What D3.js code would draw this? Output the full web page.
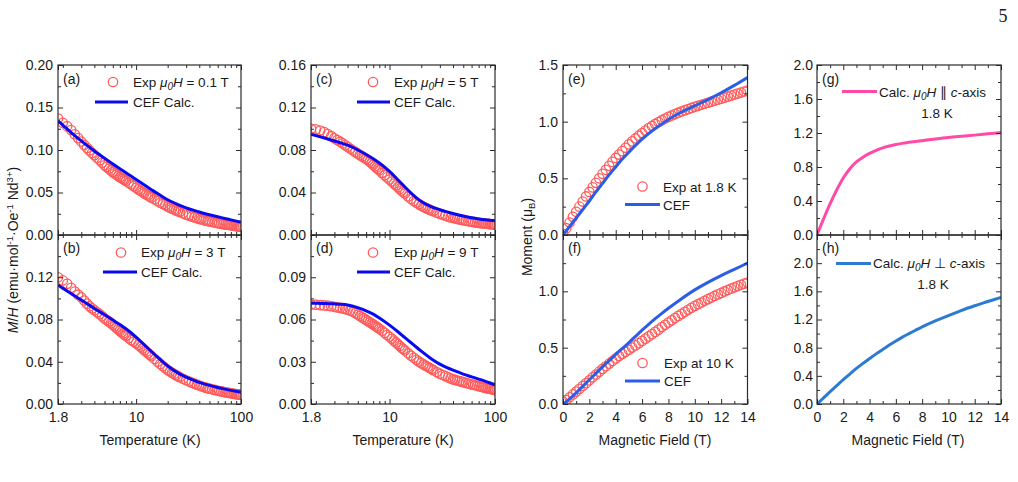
<!DOCTYPE html>
<html><head><meta charset="utf-8">
<script src="https://cdn.jsdelivr.net/npm/d3@7"></script>
<style>
body{margin:0;background:#fff;}
svg text{font-family:"Liberation Sans",Arial,sans-serif;fill:#1a1a1a;}
</style></head><body>
<svg id="c" width="1018" height="482"></svg>
<script>
// ---------- DATA ----------
const tempExp = [1.8,2.0,2.2,2.4,2.6,2.8,3.0,3.2,3.4,3.6,
  3.8,4.0,4.25,4.5,4.75,5.0,5.25,5.5,5.75,6.0,
  6.25,6.5,6.75,7.0,7.25,7.5,7.75,8.0,8.5,9.0,
  9.5,10,10.5,11,11.5,12,12.5,13,13.5,14,
  15,16,17,18,19,20,21,22,23,24,
  25,26,28,30,32,34,36,38,40,42,
  44,46,48,50,53,56,59,62,65,68,
  71,74,77,80,83,86,89,92,95,98,
  100];
const mhExp01T = [0.137,0.132,0.128,0.1235,0.1185,0.114,0.110,0.106,0.1025,0.0995,
  0.0965,0.094,0.091,0.088,0.085,0.082,0.080,0.078,0.076,0.074,
  0.0725,0.071,0.0695,0.068,0.067,0.066,0.0647,0.0635,0.0615,0.0595,
  0.0575,0.0555,0.0537,0.052,0.0505,0.049,0.0477,0.0465,0.0452,0.044,
  0.042,0.040,0.038,0.0365,0.035,0.0335,0.0322,0.031,0.030,0.029,
  0.028,0.027,0.0255,0.024,0.0228,0.0217,0.0207,0.0198,0.019,0.0183,
  0.0176,0.017,0.0165,0.016,0.0153,0.0147,0.0142,0.0137,0.0132,0.0128,
  0.0125,0.0121,0.0118,0.0114,0.0111,0.0108,0.0105,0.0102,0.0099,0.0097,
  0.0095];
const mhExp3T = [0.120,0.117,0.1138,0.110,0.1065,0.1035,0.101,0.098,0.095,0.0925,
  0.0905,0.0888,0.0868,0.085,0.083,0.081,0.0795,0.078,0.0765,0.075,
  0.0735,0.072,0.0705,0.0692,0.068,0.0668,0.0656,0.0645,0.0624,0.0605,
  0.0589,0.0575,0.0558,0.0542,0.0526,0.051,0.0495,0.048,0.0466,0.0452,
  0.0426,0.0401,0.0379,0.0358,0.0339,0.0322,0.0308,0.0295,0.0284,0.0273,
  0.0263,0.0254,0.0239,0.0225,0.0213,0.0202,0.0192,0.0183,0.0175,0.0168,
  0.0161,0.0155,0.015,0.0145,0.0139,0.0133,0.0128,0.0123,0.0119,0.0115,
  0.0111,0.0108,0.0105,0.0102,0.0099,0.0096,0.0094,0.0092,0.009,0.0088,
  0.0087];
const mhExp5T = [0.100,0.0995,0.0983,0.0968,0.095,0.093,0.091,0.0894,0.0878,0.0862,
  0.0846,0.083,0.0812,0.0795,0.078,0.0765,0.0752,0.074,0.0727,0.0715,
  0.0703,0.069,0.0676,0.0661,0.0647,0.0634,0.0621,0.0609,0.0585,0.0563,
  0.0542,0.0522,0.0503,0.0484,0.0467,0.045,0.0434,0.0419,0.0404,0.039,
  0.0363,0.034,0.032,0.0303,0.0289,0.0276,0.0265,0.0255,0.0246,0.0238,
  0.023,0.0223,0.021,0.0199,0.019,0.0181,0.0173,0.0166,0.016,0.0156,
  0.0152,0.0147,0.0143,0.0139,0.0135,0.013,0.0126,0.0123,0.0119,0.0117,
  0.0114,0.0112,0.011,0.0108,0.0106,0.0104,0.0103,0.0101,0.010,0.0099,
  0.0098];
const mhExp9T = [0.0705,0.0705,0.0702,0.070,0.0698,0.0694,0.069,0.0686,0.0682,0.0678,
  0.0674,0.067,0.0663,0.0655,0.0645,0.0635,0.0625,0.0615,0.0606,0.0597,
  0.0588,0.058,0.0572,0.0565,0.0557,0.055,0.0542,0.0534,0.052,0.0505,
  0.049,0.0477,0.0463,0.045,0.0437,0.0425,0.0412,0.040,0.039,0.038,
  0.036,0.0343,0.0328,0.0314,0.0301,0.029,0.0281,0.0272,0.0264,0.0256,
  0.0248,0.024,0.0227,0.0215,0.0206,0.0198,0.0189,0.0182,0.0175,0.0171,
  0.0167,0.0163,0.0159,0.0155,0.015,0.0145,0.014,0.0137,0.0133,0.0129,
  0.0126,0.0122,0.0119,0.0116,0.0113,0.011,0.0108,0.0106,0.0103,0.0101,
  0.010];

const tempCalc = [1.8,2,2.5,3,3.5,4,5,6,7,8,9,10,12,14,16,18,20,25,30,35,40,50,60,70,80,90,100];
const mhCalc01T = [0.1345,0.1293,0.1188,0.1107,0.1042,0.0988,0.0903,0.0836,0.078,0.0732,0.069,0.0652,0.0587,0.0533,0.0487,0.0448,0.0414,0.0358,0.032,0.0292,0.027,0.0238,0.0214,0.0195,0.0178,0.0163,0.015];
const mhCalc3T = [0.1127,0.1097,0.1035,0.0985,0.0942,0.0905,0.0845,0.0795,0.0752,0.0712,0.0672,0.0633,0.056,0.0497,0.0443,0.0398,0.036,0.0295,0.0254,0.0226,0.0205,0.0176,0.0156,0.0141,0.0129,0.012,0.0112];
const mhCalc5T = [0.0947,0.0935,0.0908,0.0885,0.0865,0.0845,0.080,0.0758,0.0717,0.0677,0.0638,0.0598,0.052,0.0452,0.0395,0.035,0.0315,0.0265,0.0238,0.0218,0.0202,0.0178,0.0162,0.0151,0.0143,0.0138,0.0135];
const mhCalc9T = [0.0715,0.0715,0.0713,0.0711,0.0708,0.0703,0.0684,0.0662,0.0638,0.0611,0.0585,0.056,0.0513,0.0471,0.0435,0.0403,0.0375,0.032,0.0283,0.0258,0.024,0.0212,0.0193,0.0177,0.0163,0.0149,0.0135];

const fieldExp = [0,0.25,0.5,0.75,1,1.25,1.5,1.75,2,2.25,2.5,2.75,3,3.25,3.5,3.75,4,4.25,4.5,4.75,5,5.25,5.5,5.75,6,6.25,6.5,6.75,7,7.25,7.5,7.75,8,8.25,8.5,8.75,9,9.25,9.5,9.75,10,10.25,10.5,10.75,11,11.25,11.5,11.75,12,12.25,12.5,12.75,13,13.25,13.5,13.75,14];
const momExp18K = [0.01,0.06,0.11,0.16,0.205,0.25,0.295,0.34,0.38,0.42,0.46,0.50,0.54,0.575,0.61,0.645,0.68,0.71,0.74,0.77,0.80,0.826,0.852,0.876,0.90,0.922,0.943,0.962,0.98,0.997,1.013,1.028,1.042,1.055,1.067,1.079,1.09,1.101,1.111,1.121,1.131,1.14,1.149,1.158,1.167,1.176,1.185,1.194,1.203,1.212,1.221,1.23,1.239,1.248,1.257,1.266,1.275];
const momExp10K = [0.02,0.035,0.06,0.085,0.11,0.135,0.16,0.185,0.21,0.237,0.262,0.287,0.312,0.335,0.358,0.381,0.404,0.426,0.445,0.463,0.482,0.501,0.52,0.54,0.56,0.58,0.60,0.62,0.64,0.66,0.683,0.703,0.723,0.743,0.763,0.782,0.80,0.818,0.836,0.854,0.871,0.886,0.901,0.916,0.931,0.945,0.959,0.973,0.986,0.999,1.012,1.024,1.036,1.047,1.058,1.068,1.078];

const fieldCalc = [0,0.5,1,1.5,2,2.5,3,3.5,4,4.5,5,5.5,6,6.5,7,7.5,8,9,10,11,12,13,14];
const momCalc18K = [0,0.075,0.15,0.225,0.30,0.38,0.455,0.53,0.60,0.67,0.73,0.79,0.845,0.895,0.94,0.98,1.02,1.085,1.14,1.195,1.255,1.32,1.39];
const momCalc10K = [0,0.045,0.10,0.157,0.215,0.272,0.33,0.385,0.44,0.493,0.545,0.60,0.655,0.707,0.757,0.805,0.85,0.935,1.013,1.08,1.14,1.195,1.25];
const momCalcPar = [0,0.19,0.37,0.53,0.67,0.78,0.86,0.915,0.96,0.995,1.025,1.047,1.065,1.078,1.09,1.10,1.11,1.13,1.148,1.162,1.175,1.19,1.205];
const momCalcPerp = [0,0.088,0.175,0.26,0.345,0.425,0.505,0.577,0.645,0.712,0.775,0.837,0.895,0.95,1.0,1.048,1.095,1.18,1.255,1.33,1.395,1.455,1.515];

// tick labels
const tempTicks = [1.8,10,100];
const tempMinor = [2,3,4,5,6,7,8,9,20,30,40,50,60,70,80,90];
const fieldTicks = [0,2,4,6,8,10,12,14];
const fieldMinor = [1,3,5,7,9,11,13];
const yTicksA = [0,0.05,0.10,0.15,0.20];
const yTicksB = [0,0.04,0.08,0.12,0.16];
const yTicksD = [0,0.03,0.06,0.09,0.12];
const yTicksE = [0,0.5,1.0,1.5];
const yTicksG = [0,0.4,0.8,1.2,1.6,2.0];
const yTicksH = [0,0.4,0.8,1.2,1.6,2.0,2.4];

// ---------- DRAW ----------
const svg = d3.select('#c');
const AX = '#2a2a2a';
const RED = '#ff5b5b';
const BLUE = '#0a0af0', BLUE2 = '#2c5de8', PINK = '#ff4aa6', BLUE3 = '#2b7bd2';

const panels = [
 {id:'a', l:58, r:241, t:65, b:235, log:true, yMax:0.20, yt:yTicksA, ymin:0.025, fmt:'.2f', hideTop:false, xl:false,
  ex:tempExp, ey:mhExp01T, cx:tempCalc, cy:mhCalc01T, col:BLUE},
 {id:'b', l:58, r:241, t:235, b:404, log:true, yMax:0.16, yt:yTicksB, ymin:0.02, fmt:'.2f', hideTop:true, xl:true,
  ex:tempExp, ey:mhExp3T, cx:tempCalc, cy:mhCalc3T, col:BLUE},
 {id:'c', l:311, r:495, t:65, b:235, log:true, yMax:0.16, yt:yTicksB, ymin:0.02, fmt:'.2f', hideTop:false, xl:false,
  ex:tempExp, ey:mhExp5T, cx:tempCalc, cy:mhCalc5T, col:BLUE},
 {id:'d', l:311, r:495, t:235, b:404, log:true, yMax:0.12, yt:yTicksD, ymin:0.015, fmt:'.2f', hideTop:true, xl:true,
  ex:tempExp, ey:mhExp9T, cx:tempCalc, cy:mhCalc9T, col:BLUE},
 {id:'e', l:563, r:747.5, t:65, b:235, log:false, yMax:1.5, yt:yTicksE, ymin:0.25, fmt:'.1f', hideTop:false, xl:false,
  ex:fieldExp, ey:momExp18K, cx:fieldCalc, cy:momCalc18K, col:BLUE2},
 {id:'f', l:563, r:747.5, t:235, b:404, log:false, yMax:1.5, yt:yTicksE, ymin:0.25, fmt:'.1f', hideTop:true, xl:true,
  ex:fieldExp, ey:momExp10K, cx:fieldCalc, cy:momCalc10K, col:BLUE2},
 {id:'g', l:817, r:1001, t:65, b:235, log:false, yMax:2.0, yt:yTicksG, ymin:0.2, fmt:'.1f', hideTop:false, xl:false,
  cx:fieldCalc, cy:momCalcPar, col:PINK, pad:4},
 {id:'h', l:817, r:1001, t:235, b:404, log:false, yMax:2.4, yt:yTicksH, ymin:0.2, fmt:'.1f', hideTop:true, xl:true,
  cx:fieldCalc, cy:momCalcPerp, col:BLUE3, pad:4}
];

function addAxis(orient, scale, pos, vals, size, fmt, pad) {
  const fn = {bottom:d3.axisBottom, top:d3.axisTop, left:d3.axisLeft, right:d3.axisRight}[orient];
  const a = fn(scale).tickValues(vals).tickSize(-size).tickPadding(pad).tickFormat(fmt || (() => ''));
  const horiz = orient === 'bottom' || orient === 'top';
  const g = svg.append('g').attr('transform', horiz ? `translate(0,${pos})` : `translate(${pos},0)`).call(a);
  g.select('.domain').remove();
  g.selectAll('line').attr('stroke', AX).attr('stroke-width', 1);
  g.selectAll('text').attr('font-size', 14).attr('fill', '#1a1a1a');
  return g;
}

panels.forEach(p => {
  const x = p.log ? d3.scaleLog().domain([1.8, 100]).range([p.l, p.r])
                  : d3.scaleLinear().domain([0, 14]).range([p.l, p.r]);
  const y = d3.scaleLinear().domain([0, p.yMax]).range([p.b, p.t]);
  const cid = 'clip-' + p.id;
  svg.append('clipPath').attr('id', cid).append('rect')
    .attr('x', p.l).attr('y', p.t).attr('width', p.r - p.l).attr('height', p.b - p.t);
  const plot = svg.append('g').attr('clip-path', `url(#${cid})`);
  if (p.ex) {
    plot.selectAll('circle').data(p.ex.map((v, i) => [v, p.ey[i]])).join('circle')
      .attr('cx', d => x(d[0])).attr('cy', d => y(d[1])).attr('r', 4.7)
      .attr('fill', 'none').attr('stroke', RED).attr('stroke-width', 1.3);
  }
  const line = d3.line().x(d => x(d[0])).y(d => y(d[1])).curve(d3.curveMonotoneX);
  plot.append('path').attr('d', line(p.cx.map((v, i) => [v, p.cy[i]])))
    .attr('fill', 'none').attr('stroke', p.col).attr('stroke-width', 3);

  const xt = p.log ? tempTicks : fieldTicks;
  const xm = p.log ? tempMinor : fieldMinor;
  const xfmt = p.xl ? (p.log ? (d => d === 1.8 ? '1.8' : String(d)) : d3.format('d')) : null;
  addAxis('bottom', x, p.b, xt, 5, xfmt, 8);
  addAxis('bottom', x, p.b, xm, 3, null, 8);
  addAxis('top', x, p.t, xt, 5, null, 5);
  addAxis('top', x, p.t, xm, 3, null, 5);
  const yminor = [];
  p.yt.forEach((v, i) => { if (i < p.yt.length - 1) yminor.push(+(v + p.ymin).toFixed(4)); });
  const f = d3.format(p.fmt);
  const yfmt = d => (p.hideTop && Math.abs(d - p.yMax) < 1e-9) ? '' : f(d);
  addAxis('left', y, p.l, p.yt, 5, yfmt, p.pad || 5);
  addAxis('left', y, p.l, yminor, 3, null, 5);
  addAxis('right', y, p.r, p.yt, 5, null, 5);
  addAxis('right', y, p.r, yminor, 3, null, 5);

  svg.append('rect').attr('x', p.l).attr('y', p.t).attr('width', p.r - p.l).attr('height', p.b - p.t)
    .attr('fill', 'none').attr('stroke', AX).attr('stroke-width', 1.2);
});

// ---------- TEXT ----------
function txt(x, y, s, opts = {}) {
  return svg.append('text').attr('x', x).attr('y', y).attr('font-size', opts.size || 14)
    .attr('text-anchor', opts.anchor || 'start').text(s);
}
function muH(t) {
  t.append('tspan').attr('font-style', 'italic').text('μ');
  t.append('tspan').attr('font-style', 'italic').attr('font-size', 10).attr('dy', 3).text('0');
  t.append('tspan').attr('font-style', 'italic').attr('dy', -3).text('H');
}
function expLegend(cx, cy, tx, ty, field) {
  svg.append('circle').attr('cx', cx).attr('cy', cy).attr('r', 4.7).attr('fill', 'none')
    .attr('stroke', RED).attr('stroke-width', 1.3);
  const t = svg.append('text').attr('x', tx).attr('y', ty).attr('font-size', 13.5);
  t.append('tspan').text('Exp ');
  muH(t);
  t.append('tspan').text(' = ' + field);
}
function lineLegend(x1, x2, y, col, tx, ty, label) {
  svg.append('line').attr('x1', x1).attr('x2', x2).attr('y1', y).attr('y2', y)
    .attr('stroke', col).attr('stroke-width', 3);
  if (label) txt(tx, ty, label, {size: 13.5});
}

txt(63, 84, '(a)'); txt(63, 253, '(b)'); txt(316, 84, '(c)'); txt(316, 253, '(d)');
txt(568, 84, '(e)'); txt(568, 253, '(f)'); txt(822, 84, '(g)'); txt(822, 253, '(h)');

expLegend(113, 82, 133, 87, '0.1 T');
lineLegend(95, 128, 102, BLUE, 133, 107, 'CEF Calc.');
expLegend(121, 252.5, 141, 257, '3 T');
lineLegend(103, 137, 272, BLUE, 141, 277, 'CEF Calc.');
expLegend(373, 82, 394, 87, '5 T');
lineLegend(357, 390, 102, BLUE, 394, 107, 'CEF Calc.');
expLegend(373, 252.5, 394, 257, '9 T');
lineLegend(357, 390, 272, BLUE, 394, 277, 'CEF Calc.');

svg.append('circle').attr('cx', 642.5).attr('cy', 186.5).attr('r', 4.7).attr('fill', 'none').attr('stroke', RED).attr('stroke-width', 1.3);
txt(663, 191.5, 'Exp at 1.8 K', {size: 13.5});
lineLegend(625, 660, 204.5, BLUE2, 663, 209.5, 'CEF');
svg.append('circle').attr('cx', 642.5).attr('cy', 363).attr('r', 4.7).attr('fill', 'none').attr('stroke', RED).attr('stroke-width', 1.3);
txt(664, 368, 'Exp at 10 K', {size: 13.5});
lineLegend(625, 660, 381, BLUE2, 664, 386, 'CEF');

lineLegend(842, 877, 91.5, PINK);
{
  const t = svg.append('text').attr('x', 879).attr('y', 96.5).attr('font-size', 13.5);
  t.append('tspan').text('Calc. '); muH(t); t.append('tspan').text(' \u2225 ');
  t.append('tspan').attr('font-style', 'italic').text('c'); t.append('tspan').text('-axis');
}
txt(937, 117.5, '1.8 K', {size: 13.5, anchor: 'middle'});
lineLegend(836, 871, 263.5, BLUE3);
{
  const t = svg.append('text').attr('x', 873).attr('y', 268).attr('font-size', 13.5);
  t.append('tspan').text('Calc. '); muH(t); t.append('tspan').text(' \u22A5 ');
  t.append('tspan').attr('font-style', 'italic').text('c'); t.append('tspan').text('-axis');
}
txt(933, 288.5, '1.8 K', {size: 13.5, anchor: 'middle'});

txt(150, 445, 'Temperature (K)', {anchor: 'middle'});
txt(403, 445, 'Temperature (K)', {anchor: 'middle'});
txt(655, 445, 'Magnetic Field (T)', {anchor: 'middle'});
txt(908, 445, 'Magnetic Field (T)', {anchor: 'middle'});

{
  const t = svg.append('text').attr('transform', 'translate(18,250) rotate(-90)')
    .attr('text-anchor', 'middle').attr('font-size', 14);
  t.append('tspan').attr('font-style', 'italic').text('M');
  t.append('tspan').text('/');
  t.append('tspan').attr('font-style', 'italic').text('H');
  t.append('tspan').text(' (emu\u00B7mol');
  t.append('tspan').attr('font-size', 9.5).attr('dy', -5).text('-1');
  t.append('tspan').attr('dy', 5).text('\u00B7Oe');
  t.append('tspan').attr('font-size', 9.5).attr('dy', -5).text('-1');
  t.append('tspan').attr('dy', 5).text(' Nd');
  t.append('tspan').attr('font-size', 9.5).attr('dy', -5).text('3+');
  t.append('tspan').attr('dy', 5).text(')');
}
{
  const t = svg.append('text').attr('transform', 'translate(532,237) rotate(-90)')
    .attr('text-anchor', 'middle').attr('font-size', 14);
  t.append('tspan').text('Moment (\u03BC');
  t.append('tspan').attr('font-size', 9.5).attr('dy', 3).text('B');
  t.append('tspan').attr('dy', -3).text(')');
}

svg.append('text').attr('x', 1003).attr('y', 22).attr('font-size', 18)
  .attr('text-anchor', 'middle').style('font-family', '"Liberation Serif","DejaVu Serif",serif').text('5');
</script>
</body></html>
